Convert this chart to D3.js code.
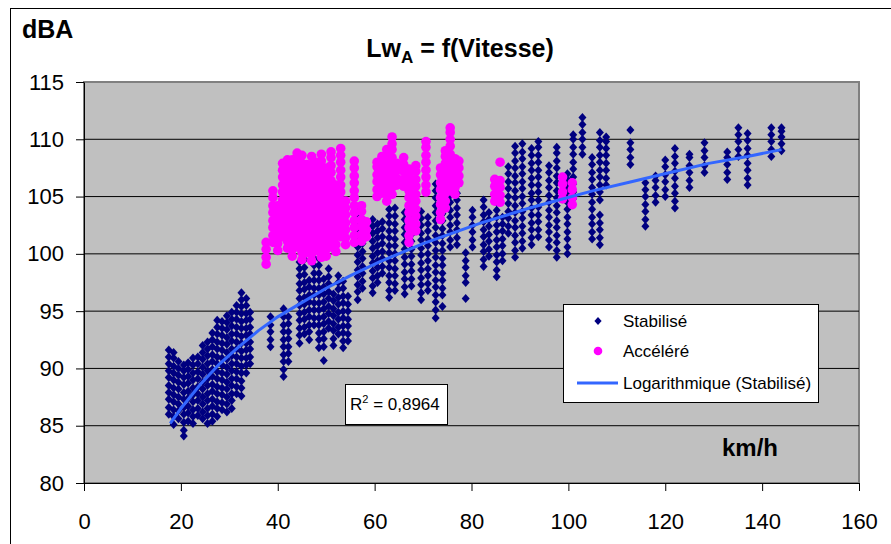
<!DOCTYPE html>
<html lang="fr">
<head>
<meta charset="UTF-8">
<title>LwA = f(Vitesse)</title>
<script src="https://cdn.jsdelivr.net/npm/d3@7"></script>
<style>
body { margin: 0; background: #fff; }
text { font-family: Arial, 'Liberation Sans', sans-serif; fill: #000; }
</style>
</head>
<body>
<svg id="chart" width="891" height="544"></svg>
<script>
const stabilise = [
  [17.5, [86.0,86.6,87.3,87.9,88.5,89.2,89.8,90.4,91.0,91.6]],
  [18.5, [85.1,85.8,86.4,87.1,87.7,88.3,89.0,89.6,90.2,90.9,91.4]],
  [19.5, [85.6,86.3,86.9,87.5,88.2,88.8,89.4,90.0,90.6]],
  [20.6, [84.1,84.6,85.3,86.0,86.6,87.3,87.9,88.6,89.2,89.8,90.3]],
  [21.5, [85.4,86.1,86.7,87.4,88.0,88.7,89.3,89.9,90.5]],
  [22.5, [85.2,85.8,86.4,87.1,87.7,88.3,89.0,89.6,90.3,90.9]],
  [23.5, [85.9,86.5,87.2,87.8,88.4,89.1,89.7,90.4,91.0]],
  [24.5, [85.6,86.2,86.9,87.5,88.2,88.8,89.5,90.1,90.8,91.4,92.0]],
  [25.5, [85.2,85.9,86.5,87.2,87.8,88.5,89.1,89.8,90.4,91.1,91.7,92.3]],
  [26.5, [85.4,86.0,86.7,87.3,88.0,88.6,89.3,89.9,90.6,91.2,91.9,92.5,93.1]],
  [27.5, [85.8,86.5,87.1,87.8,88.4,89.1,89.7,90.4,91.0,91.7,92.3,93.0,93.6,94.2]],
  [28.5, [86.4,87.0,87.7,88.3,89.0,89.6,90.3,90.9,91.6,92.2,92.9,93.5,94.1]],
  [29.5, [86.2,86.9,87.5,88.2,88.8,89.5,90.1,90.8,91.4,92.1,92.7,93.4,94.0,94.6]],
  [30.5, [86.5,87.2,87.8,88.5,89.1,89.8,90.4,91.1,91.7,92.4,93.0,93.7,94.3,94.9]],
  [31.5, [87.8,88.4,89.1,89.7,90.4,91.0,91.7,92.3,93.0,93.6,94.3,94.9,95.5]],
  [32.5, [87.6,88.3,88.9,89.6,90.2,90.9,91.5,92.2,92.8,93.5,94.1,94.8,95.4,96.0,96.6]],
  [33.5, [89.6,90.3,90.9,91.6,92.2,92.9,93.5,94.2,94.8,95.5,96.1]],
  [34.3, [90.4,91.0,91.7,92.3,93.0,93.6,94.3,94.9]],
  [38.5, [91.9,92.5,93.2,93.8,94.5]],
  [41.2, [89.3,89.9,90.6,91.2,91.9,92.5,93.2,93.8,94.5,95.2]],
  [42.2, [90.6,91.3,91.9,92.6,93.2,93.9,94.5]],
  [44.5, [92.2,92.9,93.5,94.2,94.8,95.5,96.1,96.8,97.4,98.1,98.7,99.3]],
  [45.5, [93.0,93.6,94.3,94.9,95.6,96.2,96.9,97.5,98.2,98.8,99.5,100.1]],
  [46.5, [92.5,93.2,93.8,94.5,95.1,95.8,96.4,97.1,97.7]],
  [47.5, [93.8,94.4,95.1,95.7,96.4,97.0,97.7,98.3,99.0,99.6]],
  [48.5, [91.8,92.5,93.1,93.8,94.4,95.1,95.7,96.4,97.0,97.7,98.3,99.0,99.6]],
  [49.5, [90.7,91.9,92.6,93.2,93.9,94.5,95.2,95.8,96.5,97.1,97.8]],
  [50.5, [93.5,94.1,94.8,95.4,96.1,96.7,97.4,98.0,98.7]],
  [51.5, [92.0,92.6,93.3,93.9,94.6,95.2,95.9,96.5]],
  [52.5, [93.0,93.6,94.3,94.9,95.6,96.2,96.9,97.5,98.1]],
  [53.5, [91.8,92.4,93.1,93.7,94.4,95.0,95.7,96.3,97.0,97.6]],
  [54.5, [92.4,93.0,93.7,94.3,95.0,95.6,96.3]],
  [56.5, [96.0,96.7,97.3,98.0,98.6,99.3,99.9,100.6,101.2,101.9,102.5,103.2,103.8]],
  [57.5, [97.0,97.6,98.3,98.9,99.6,100.2,100.9,101.5,102.2,102.8]],
  [59.6, [96.6,97.2,97.9,98.5,99.2,99.8,100.5,101.1,101.8,102.4,103.0]],
  [60.6, [97.5,98.1,98.8,99.4,100.1,100.7,101.4,102.0,102.6]],
  [61.6, [98.3,98.9,99.6,100.2,100.9,101.5,102.2,102.8]],
  [63.0, [96.2,96.8,97.5,98.1,98.8,99.4,100.1,100.7,101.4,102.0,102.7,103.3,103.9]],
  [64.2, [96.8,97.4,98.1,98.7,99.4,100.0,100.7,101.3,102.0,102.6,103.3,104.0]],
  [66.2, [96.5,97.1,97.8,98.4,99.1,99.7,100.4,101.0,101.7,102.3,103.0,103.6]],
  [67.6, [97.2,97.8,98.5,99.1,99.8,100.4,101.1,101.7,102.4,103.0]],
  [69.6, [96.0,96.6,97.3,97.9,98.6,99.2,99.9,100.5,101.2,101.8,102.5,103.1,103.7]],
  [71.0, [96.8,97.4,98.1,98.7,99.4,100.0,100.7,101.3,102.0,102.6,103.2]],
  [72.6, [94.4,95.1,95.8,96.4,97.1,97.7,98.4,99.0,99.7,100.3,101.0,101.6,102.3,102.9,103.6,104.2,104.9,105.5,106.1]],
  [74.0, [95.4,96.4,97.0,97.7,98.3,99.0,99.6,100.3,100.9,101.6,102.2,102.9,103.5,104.2,104.8,105.5,106.1]],
  [75.6, [100.6,101.2,101.9,102.5,103.2,103.8,104.5,105.1,105.8,106.4,107.1,107.7,108.3]],
  [77.0, [100.8,101.4,102.1,102.7,103.4,104.0,104.7,105.3,106.0,106.6,107.3,107.9]],
  [78.8, [96.1,97.5,98.1,98.8,99.4,100.1]],
  [80.2, [100.6,101.2,101.9,102.5,103.2,103.8]],
  [82.5, [98.9,99.5,100.2,100.8,101.5,102.1,102.8,103.4,104.1,104.7]],
  [83.6, [99.8,100.4,101.1,101.7,102.4,103.0,103.6]],
  [85.2, [98.0,98.6,99.3,99.9,100.6,101.2,101.9,102.5,103.2,103.8,104.5]],
  [86.4, [99.4,100.0,100.7,101.3,102.0,102.6,103.2]],
  [87.6, [101.8,102.4,103.1,103.7,104.4,105.0,105.7,106.3,107.0,107.6]],
  [89.0, [99.7,100.3,101.0,101.6,102.3,102.9,103.6,104.2,104.9,105.5,106.2,106.8,107.5,108.1,108.8,109.4]],
  [90.5, [100.5,101.1,101.8,102.4,103.1,103.7,104.4,105.0,105.7,106.3,107.0,107.6,108.3,108.9,109.6]],
  [92.4, [100.8,101.4,102.1,102.7,103.4,104.0,104.7,105.3,106.0,106.6,107.3,107.9,108.6,109.2]],
  [93.8, [101.5,102.1,102.8,103.4,104.1,104.7,105.4,106.0,106.7,107.3,108.0,108.6,109.3,109.8]],
  [96.0, [100.6,101.2,101.9,102.5,103.2,103.8,104.5,105.1,105.8,106.4,107.1,107.7]],
  [97.6, [99.7,100.3,101.0,101.6,102.3,102.9,103.6,104.2,104.9,105.5,106.2,106.8,107.5,108.1,108.8,109.3]],
  [99.8, [100.0,100.6,101.3,101.9,102.6,103.2,103.9,104.5,105.2,105.8,106.5,107.0]],
  [101.0, [104.8,105.4,106.1,106.7,107.4,108.0,108.7,109.3,110.0,110.4]],
  [102.9, [108.7,109.3,110.0,110.6,111.3,111.9]],
  [104.9, [101.3,101.9,102.6,103.2,103.9,104.5,105.2,105.8,106.5,107.1,107.8,108.4]],
  [106.5, [100.8,101.4,102.1,102.7,103.4,104.7,105.4,106.0,106.7,107.3,108.0,108.6,109.3,109.9,110.6]],
  [107.8, [106.0,106.6,107.3,107.9,108.6,109.2,109.8,110.2]],
  [112.8, [107.8,108.4,109.1,109.7,110.8]],
  [115.9, [102.4,103.0,103.7,104.3,105.0,105.6,106.2]],
  [118.0, [104.5,105.1,105.8,106.4,106.8]],
  [120.0, [105.0,105.6,106.3,106.9,107.6,108.2]],
  [122.0, [104.0,104.6,105.3,105.9,106.6,107.2,107.9,108.5,109.2]],
  [125.0, [105.8,106.4,107.1,107.7,108.4,108.7]],
  [128.1, [107.1,107.7,108.4,109.0,109.7]],
  [132.8, [106.5,107.1,107.8,108.4,108.9]],
  [135.1, [108.5,109.1,109.8,110.4,111.0]],
  [137.0, [106.0,106.6,107.3,107.9,108.6,109.2,109.9,110.5]],
  [141.9, [108.5,109.1,109.8,110.4,111.0]],
  [144.0, [109.0,109.6,110.2,110.7,111.0]]
];

const accelere = [
  [37.6, [99.1,99.7,100.4,101.0]],
  [39.0, [101.0,101.6,102.3,102.9,103.6,104.2,104.9,105.5]],
  [40.0, [100.3,100.9,101.6,102.2,102.9,103.5,104.2]],
  [41.0, [101.5,102.1,102.8,103.4,104.1,104.7,105.4,106.0,106.7,107.3,107.9]],
  [42.0, [100.5,101.1,101.8,102.4,103.1,103.7,104.4,105.0,105.7,106.3,107.0,107.6,108.2]],
  [43.0, [99.8,100.4,101.1,101.7,102.4,103.0,103.7,104.3,105.0,105.6,106.3,106.9,107.6,108.2]],
  [44.0, [100.6,101.2,101.9,102.5,103.2,103.8,104.5,105.1,105.8,106.4,107.1,107.7,108.4,108.8]],
  [45.0, [99.5,100.1,100.8,101.4,102.1,102.7,103.4,104.0,104.7,105.3,106.0,106.6,107.3,107.9,108.6]],
  [46.0, [100.1,100.7,101.4,102.0,102.7,103.3,104.0,104.6,105.3,105.9,106.6,107.2,107.8]],
  [47.0, [99.4,100.0,100.7,101.3,102.0,102.6,103.3,103.9,104.6,105.2,105.9,106.5,107.2,107.8,108.5]],
  [48.0, [100.3,100.9,101.6,102.2,102.9,103.5,104.2,104.8,105.5,106.1,106.8,107.4,108.0]],
  [49.0, [99.7,100.3,101.0,101.6,102.3,102.9,103.6,104.2,104.9,105.5,106.2,106.8,107.5,108.1,108.7]],
  [50.0, [99.8,100.4,101.1,101.7,102.4,103.0,103.7,104.3,105.0,105.6,106.3,106.9,107.5]],
  [51.0, [100.6,101.2,101.9,102.5,103.2,103.8,104.5,105.1,105.8,106.4,107.1,107.7,108.4,108.9]],
  [52.0, [100.2,100.8,101.5,102.1,102.8,103.4,104.1,104.7,105.4,106.0]],
  [53.0, [101.5,102.1,102.8,103.4,104.1,104.7,105.4,106.0,106.7,107.3,108.0,108.6,109.2]],
  [54.0, [100.8,101.4,102.1,102.7,103.4,104.0,104.6]],
  [55.8, [101.0,101.6,102.3,102.9,103.6,104.2,104.9,105.5,106.2,106.8,107.5,108.1]],
  [57.3, [101.1,101.7,102.4,103.0,103.7,104.2]],
  [58.3, [101.5,102.1,102.8]],
  [60.5, [105.0,105.6,106.3,106.9,107.6,108.0]],
  [61.5, [105.3,105.9,106.6,107.2,107.9,108.5]],
  [62.5, [104.6,105.2,105.9,106.5,107.2,107.8,108.5,109.1]],
  [63.6, [105.2,105.8,106.5,107.1,107.8,108.4,109.1,109.6,110.2]],
  [64.6, [106.0,106.6,107.3,107.9]],
  [66.0, [105.9,106.5,107.2,107.8,108.4]],
  [67.1, [101.0,101.6,102.3,102.9,103.6,104.2,104.9,105.5,106.2,106.8,107.4]],
  [68.5, [102.0,102.6,103.3,103.9,104.6,105.2,105.9,106.5,107.2,107.7]],
  [70.6, [105.4,106.0,106.7,107.3,108.0,108.6,109.3,109.8]],
  [73.6, [103.0,103.6,104.3,104.9,105.6,106.2,106.9,107.5]],
  [74.6, [104.0,104.6,105.3,105.9,106.6,107.2,107.9,108.5,109.0]],
  [75.6, [105.5,106.1,106.8,107.4,108.1,108.7,109.4,110.0,110.6,111.0]],
  [76.6, [105.2,105.8,106.5,107.1,107.8,108.3]],
  [77.4, [106.2,106.8,107.5,108.1]],
  [84.8, [104.6,105.2,105.9,106.5]],
  [85.9, [104.5,105.1,105.8,106.4,108.0]],
  [98.8, [104.8,105.4,106.1,106.7]],
  [100.8, [104.3,104.9,105.6,106.2]]
];

// logarithmic trend line (Stabilisé)
const trendSpeed = [17.8, 20, 24, 28, 32, 36, 40, 44, 50, 55, 61, 70, 82, 92, 98, 105, 113, 121, 129, 137, 144];
const trendLevel = [85.2, 86.5, 88.6, 90.4, 91.9, 93.3, 94.5, 95.5, 97.0, 98.1, 99.3, 100.9, 102.7, 104.0, 104.7, 105.5, 106.3, 107.1, 107.9, 108.5, 109.1];

const xTicks = [0, 20, 40, 60, 80, 100, 120, 140, 160];
const yTicks = [80, 85, 90, 95, 100, 105, 110, 115];

const svg = d3.select('#chart');

const x = d3.scaleLinear().domain([0, 160]).range([84, 859]);
const y = d3.scaleLinear().domain([80, 115]).range([483, 82]);

    // outer frame of the chart object
svg.append('rect')
    .attr('x', 10.5).attr('y', 8.5)
    .attr('width', 1000).attr('height', 1000)
    .attr('fill', '#fff')
    .attr('stroke', '#000')
    .attr('stroke-width', 1);

    // plot area
svg.append('rect')
    .attr('x', x(0)).attr('y', y(115))
    .attr('width', x(160) - x(0)).attr('height', y(80) - y(115))
    .attr('fill', '#c0c0c0')
    .attr('stroke', '#808080')
    .attr('stroke-width', 2);

svg.append('g')
    .selectAll('line')
    .data(yTicks.filter(d => d > 80 && d < 115))
    .join('line')
    .attr('x1', x(0)).attr('x2', x(160))
    .attr('y1', d => y(d)).attr('y2', d => y(d))
    .attr('stroke', '#000')
    .attr('stroke-width', 1);

    // axes
let yAxis = svg.append('g')
    .attr('transform', `translate(${x(0)},0)`)
    .call(d3.axisLeft(y).tickValues(yTicks).tickSize(8).tickSizeOuter(0).tickPadding(12));
let xAxis = svg.append('g')
    .attr('transform', `translate(0,${y(80)})`)
    .call(d3.axisBottom(x).tickValues(xTicks).tickSize(8).tickSizeOuter(0).tickPadding(22));
[yAxis, xAxis].forEach(a => {
    a.attr('font-size', 22).attr('font-family', "Arial, 'Liberation Sans', sans-serif");
    a.selectAll('path, line').attr('stroke', '#000');
});

    // points
const flat = cols => cols.flatMap(([s, levels]) => levels.map(l => ({ s, l })));
const diamond = 'M0,-4.5L4,0L0,4.5L-4,0Z';

svg.append('g')
    .selectAll('path')
    .data(flat(stabilise))
    .join('path')
    .attr('d', diamond)
    .attr('transform', d => `translate(${x(d.s)},${y(d.l)})`)
    .attr('fill', '#000080');

svg.append('g')
    .selectAll('circle')
    .data(flat(accelere))
    .join('circle')
    .attr('cx', d => x(d.s))
    .attr('cy', d => y(d.l))
    .attr('r', 4.8)
    .attr('fill', '#ff00ff');

    // trend line
let line = d3.line()
    .x((d, i) => x(trendSpeed[i]))
    .y(d => y(d));
svg.append('path')
    .attr('d', line(trendLevel))
    .attr('fill', 'none')
    .attr('stroke', '#3366ff')
    .attr('stroke-width', 3);

    // titles
let title = svg.append('text')
    .attr('x', 460).attr('y', 57)
    .attr('text-anchor', 'middle')
    .attr('font-size', 25).attr('font-weight', 'bold');
title.append('tspan').text('Lw');
title.append('tspan').text('A').attr('font-size', 17).attr('dy', 6);
title.append('tspan').text(' = f(Vitesse)').attr('dy', -6);

svg.append('text')
    .attr('x', 22).attr('y', 38)
    .attr('font-size', 25).attr('font-weight', 'bold')
    .text('dBA');

svg.append('text')
    .attr('x', 722).attr('y', 456)
    .attr('font-size', 24).attr('font-weight', 'bold')
    .text('km/h');

    // R² label
svg.append('rect')
    .attr('x', 345.5).attr('y', 384.5)
    .attr('width', 102).attr('height', 40)
    .attr('fill', '#fff').attr('stroke', '#000');
let r2 = svg.append('text')
    .attr('x', 350).attr('y', 410)
    .attr('font-size', 17);
r2.append('tspan').text('R');
r2.append('tspan').text('2').attr('font-size', 11).attr('dy', -7);
r2.append('tspan').text(' = 0,8964').attr('dy', 7);

    // legend
let legend = svg.append('g');
legend.append('rect')
    .attr('x', 563.5).attr('y', 304.5)
    .attr('width', 255).attr('height', 98)
    .attr('fill', '#fff').attr('stroke', '#000');
legend.append('path')
    .attr('d', 'M0,-4L3.6,0L0,4L-3.6,0Z')
    .attr('transform', 'translate(598,321)')
    .attr('fill', '#000080');
legend.append('circle')
    .attr('cx', 598).attr('cy', 351).attr('r', 4.3)
    .attr('fill', '#ff00ff');
legend.append('line')
    .attr('x1', 577).attr('x2', 618)
    .attr('y1', 383).attr('y2', 383)
    .attr('stroke', '#3366ff').attr('stroke-width', 3);
legend.selectAll('text.lab')
    .data(['Stabilisé', 'Accéléré', 'Logarithmique (Stabilisé)'])
    .join('text')
    .attr('class', 'lab')
    .attr('x', 623)
    .attr('y', (d, i) => [327, 357, 389][i])
    .attr('font-size', 17)
    .text(d => d);
</script>
</body>
</html>
